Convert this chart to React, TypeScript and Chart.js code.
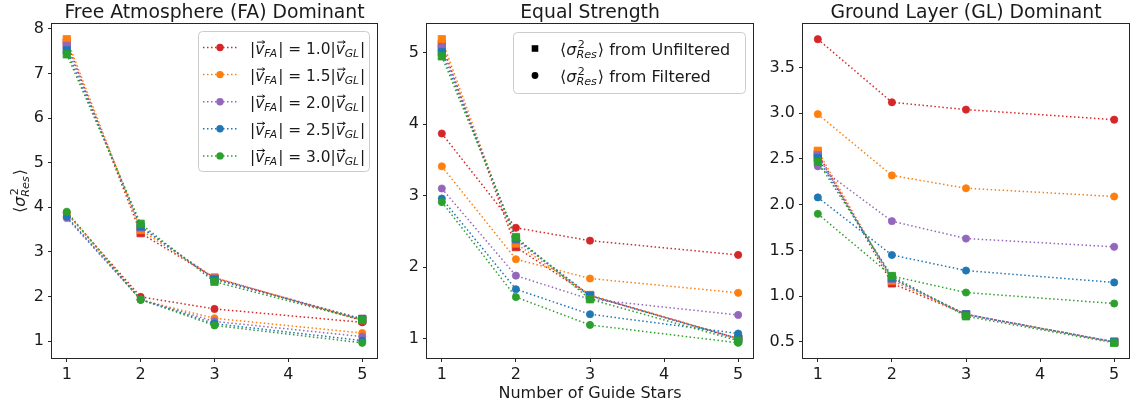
import React, { useEffect, useRef } from 'react';
import { Chart, registerables } from 'chart.js';
Chart.register(...registerables);

// ---------------- data ----------------
const guideStars = [1, 2, 3, 5];
const velocityRatios = ['1.0', '1.5', '2.0', '2.5', '3.0'];
const seriesColors = ['#d62728', '#ff7f0e', '#9467bd', '#1f77b4', '#2ca02c'];
const panelTitles = ['Free Atmosphere (FA) Dominant', 'Equal Strength', 'Ground Layer (GL) Dominant'];

// Free Atmosphere dominant
const unfilteredFA = [
  [7.70, 3.42, 2.42, 1.46],
  [7.77, 3.49, 2.42, 1.48],
  [7.62, 3.55, 2.40, 1.50],
  [7.52, 3.57, 2.38, 1.49],
  [7.43, 3.63, 2.33, 1.47],
];
const filteredFA = [
  [3.87, 1.99, 1.72, 1.42],
  [3.88, 1.92, 1.51, 1.18],
  [3.76, 1.93, 1.44, 1.10],
  [3.79, 1.93, 1.39, 1.01],
  [3.90, 1.93, 1.35, 0.96],
];
// Equal strength
const unfilteredES = [
  [5.12, 2.28, 1.60, 1.00],
  [5.19, 2.33, 1.61, 1.00],
  [5.07, 2.38, 1.60, 1.00],
  [5.01, 2.40, 1.60, 0.99],
  [4.95, 2.42, 1.55, 0.97],
];
const filteredES = [
  [3.87, 2.55, 2.37, 2.17],
  [3.41, 2.11, 1.84, 1.64],
  [3.10, 1.88, 1.55, 1.33],
  [2.96, 1.69, 1.34, 1.07],
  [2.91, 1.58, 1.19, 0.94],
];
// Ground layer dominant
const unfilteredGL = [
  [2.56, 1.14, 0.80, 0.50],
  [2.59, 1.17, 0.80, 0.50],
  [2.54, 1.19, 0.80, 0.50],
  [2.51, 1.20, 0.80, 0.50],
  [2.47, 1.22, 0.78, 0.49],
];
const filteredGL = [
  [3.81, 3.12, 3.04, 2.93],
  [2.99, 2.32, 2.18, 2.09],
  [2.42, 1.82, 1.63, 1.54],
  [2.08, 1.45, 1.28, 1.15],
  [1.90, 1.22, 1.04, 0.92],
];

const xTicks = [1, 2, 3, 4, 5];
const yTicksFA = [1, 2, 3, 4, 5, 6, 7, 8];
const yTicksES = [1, 2, 3, 4, 5];
const yTicksGL = [0.5, 1.0, 1.5, 2.0, 2.5, 3.0, 3.5];

// ---------------- drawing helpers ----------------
const FAM = '"DejaVu Sans", "Liberation Sans", sans-serif';
const TEXT = '#1a1a1a';
function setFont(ctx: CanvasRenderingContext2D, size: number, it = false) {
  ctx.font = `${it ? 'italic ' : ''}${size}px ${FAM}`;
}
type Run = { t?: string; it?: boolean; arrow?: boolean; sup?: string; sub?: string };

function drawVecArrow(ctx: CanvasRenderingContext2D, x0: number, x1: number, y: number, size: number) {
  ctx.save();
  ctx.lineWidth = Math.max(1, size * 0.06);
  ctx.strokeStyle = TEXT;
  ctx.beginPath();
  ctx.moveTo(x0, y);
  ctx.lineTo(x1, y);
  ctx.stroke();
  ctx.beginPath();
  ctx.moveTo(x1 - size * 0.15, y - size * 0.1);
  ctx.lineTo(x1, y);
  ctx.lineTo(x1 - size * 0.15, y + size * 0.1);
  ctx.stroke();
  ctx.restore();
}

function drawRuns(ctx: CanvasRenderingContext2D, runs: Run[], x: number, y: number, size: number, draw = true) {
  let cx = x;
  ctx.fillStyle = TEXT;
  ctx.textBaseline = 'alphabetic';
  ctx.textAlign = 'left';
  for (const r of runs) {
    if (r.t !== undefined) {
      setFont(ctx, size, !!r.it);
      const w = ctx.measureText(r.t).width;
      if (draw) {
        ctx.fillText(r.t, cx, y);
        if (r.arrow) drawVecArrow(ctx, cx + w * 0.2, cx + w * 1.05, y - size * 0.74, size);
      }
      cx += w;
    } else {
      const s = size * 0.7;
      let w = 0;
      if (r.sup) {
        setFont(ctx, s, false);
        const ws = ctx.measureText(r.sup).width + size * 0.08;
        if (draw) ctx.fillText(r.sup, cx + size * 0.08, y - size * 0.42);
        w = Math.max(w, ws);
      }
      if (r.sub) {
        setFont(ctx, s, true);
        const wb = ctx.measureText(r.sub).width;
        if (draw) ctx.fillText(r.sub, cx, y + size * 0.22);
        w = Math.max(w, wb);
      }
      cx += w + size * 0.06;
    }
  }
  return cx - x;
}

const sigmaRuns: Run[] = [{ t: '⟨' }, { t: 'σ', it: true }, { sup: '2', sub: 'Res' }, { t: '⟩' }];
function ratioRuns(r: string): Run[] {
  return [
    { t: '|' }, { t: 'v', it: true, arrow: true }, { sub: 'FA' },
    { t: `| = ${r}|` }, { t: 'v', it: true, arrow: true }, { sub: 'GL' }, { t: '|' },
  ];
}

function roundRect(ctx: CanvasRenderingContext2D, x: number, y: number, w: number, h: number, r: number) {
  ctx.beginPath();
  ctx.moveTo(x + r, y);
  ctx.lineTo(x + w - r, y);
  ctx.arcTo(x + w, y, x + w, y + r, r);
  ctx.lineTo(x + w, y + h - r);
  ctx.arcTo(x + w, y + h, x + w - r, y + h, r);
  ctx.lineTo(x + r, y + h);
  ctx.arcTo(x, y + h, x, y + h - r, r);
  ctx.lineTo(x, y + r);
  ctx.arcTo(x, y, x + r, y, r);
  ctx.closePath();
}

type Panel = {
  title: string;
  unf: number[][];
  fil: number[][];
  yTicks: number[];
  decimals: number;
  left: number;
  width: number;
  yAxisWidth: number;
  rightPad: number;
  legend: 'colors' | 'markers' | null;
  yLabel: boolean;
  xTitle: boolean;
};

const panels: Panel[] = [
  { title: panelTitles[0], unf: unfilteredFA, fil: filteredFA, yTicks: yTicksFA, decimals: 0, left: 0, width: 390, yAxisWidth: 52, rightPad: 13, legend: 'colors', yLabel: true, xTitle: false },
  { title: panelTitles[1], unf: unfilteredES, fil: filteredES, yTicks: yTicksES, decimals: 0, left: 390, width: 375, yAxisWidth: 37, rightPad: 12, legend: 'markers', yLabel: false, xTitle: true },
  { title: panelTitles[2], unf: unfilteredGL, fil: filteredGL, yTicks: yTicksGL, decimals: 1, left: 765, width: 370, yAxisWidth: 38, rightPad: 6, legend: null, yLabel: false, xTitle: false },
];

const H = 407;

function overlayPlugin(p: Panel) {
  return {
    id: 'overlay',
    afterDraw(chart: any) {
      const ctx: CanvasRenderingContext2D = chart.ctx;
      const a = chart.chartArea;
      ctx.save();
      // frame
      ctx.strokeStyle = '#262626';
      ctx.lineWidth = 1;
      ctx.strokeRect(Math.round(a.left) - 0.5, Math.round(a.top) - 0.5, Math.round(a.right - a.left) + 1, Math.round(a.bottom - a.top) + 1);
      // title
      setFont(ctx, 18.8);
      ctx.fillStyle = TEXT;
      ctx.textAlign = 'center';
      ctx.textBaseline = 'alphabetic';
      ctx.fillText(p.title, (a.left + a.right) / 2, 17.5);
      // x title
      if (p.xTitle) {
        setFont(ctx, 16);
        ctx.textAlign = 'center';
        ctx.fillText('Number of Guide Stars', (a.left + a.right) / 2, 398);
      }
      // y label
      if (p.yLabel) {
        const w = drawRuns(ctx, sigmaRuns, 0, 0, 16, false);
        ctx.save();
        ctx.translate(0, (a.top + a.bottom) / 2);
        ctx.rotate(-Math.PI / 2);
        drawRuns(ctx, sigmaRuns, -w / 2, 25, 16, true);
        ctx.restore();
      }
      // legends
      if (p.legend === 'colors') {
        const bx = 198 - p.left, by = 31, bw = 171, bh = 140;
        roundRect(ctx, bx + 0.5, by + 0.5, bw, bh, 4);
        ctx.fillStyle = 'rgba(255,255,255,0.8)';
        ctx.fill();
        ctx.strokeStyle = '#cccccc';
        ctx.lineWidth = 1;
        ctx.stroke();
        for (let i = 0; i < velocityRatios.length; i++) {
          const yc = 47.5 + 27.1 * i;
          ctx.save();
          ctx.strokeStyle = seriesColors[i];
          ctx.lineWidth = 1.5;
          ctx.setLineDash([1.5, 2.5]);
          ctx.beginPath();
          ctx.moveTo(bx + 5, yc);
          ctx.lineTo(bx + 39, yc);
          ctx.stroke();
          ctx.restore();
          ctx.fillStyle = seriesColors[i];
          ctx.beginPath();
          ctx.arc(bx + 22, yc, 3.7, 0, Math.PI * 2);
          ctx.fill();
          drawRuns(ctx, ratioRuns(velocityRatios[i]), bx + 52, yc + 6, 15.4, true);
        }
      } else if (p.legend === 'markers') {
        const bx = 513 - p.left, by = 32, bw = 232, bh = 61;
        roundRect(ctx, bx + 0.5, by + 0.5, bw, bh, 4);
        ctx.fillStyle = 'rgba(255,255,255,0.8)';
        ctx.fill();
        ctx.strokeStyle = '#cccccc';
        ctx.lineWidth = 1;
        ctx.stroke();
        const mx = 535 - p.left;
        ctx.fillStyle = '#000';
        ctx.fillRect(mx - 3.3, 48.5 - 3.3, 6.6, 6.6);
        ctx.beginPath();
        ctx.arc(mx, 75.5, 3.4, 0, Math.PI * 2);
        ctx.fill();
        drawRuns(ctx, [...sigmaRuns, { t: ' from Unfiltered' }], 560 - p.left, 48.5 + 6, 16, true);
        drawRuns(ctx, [...sigmaRuns, { t: ' from Filtered' }], 560 - p.left, 75.5 + 6, 16, true);
      }
      ctx.restore();
    },
  };
}

function buildChart(canvas: HTMLCanvasElement, p: Panel) {
  const all = [...p.unf.flat(), ...p.fil.flat()];
  const lo = Math.min(...all), hi = Math.max(...all);
  const m = (hi - lo) * 0.05;
  const datasets: any[] = [];
  for (let i = 0; i < seriesColors.length; i++) {
    const c = seriesColors[i];
    const common = {
      borderColor: c, backgroundColor: c, borderWidth: 1.5, borderDash: [1.5, 2.5],
      pointBackgroundColor: c, pointBorderColor: c, pointBorderWidth: 0.8,
      showLine: true, tension: 0, fill: false, borderCapStyle: 'butt',
    };
    datasets.push({ ...common, label: `unf ${velocityRatios[i]}`, data: guideStars.map((x, j) => ({ x, y: p.unf[i][j] })), pointStyle: 'rect', pointRadius: 5.2 });
    datasets.push({ ...common, label: `fil ${velocityRatios[i]}`, data: guideStars.map((x, j) => ({ x, y: p.fil[i][j] })), pointStyle: 'circle', pointRadius: 3.6 });
  }
  datasets.reverse(); // first dataset is drawn on top in Chart.js

  const tickFont = { family: FAM, size: 16 };
  return new Chart(canvas, {
    type: 'line',
    data: { datasets },
    plugins: [overlayPlugin(p)],
    options: {
      responsive: false,
      animation: false,
      devicePixelRatio: 1,
      events: [],
      layout: { padding: { left: 0, right: p.rightPad, top: 24, bottom: 0 } },
      plugins: { legend: { display: false }, tooltip: { enabled: false }, title: { display: false } },
      scales: {
        x: {
          type: 'linear', min: 0.8, max: 5.2,
          afterBuildTicks: (s: any) => { s.ticks = xTicks.map((v) => ({ value: v })); },
          afterFit: (s: any) => { s.height = H - 358; },
          grid: { display: true, drawOnChartArea: false, drawTicks: true, tickLength: 4, color: '#262626', lineWidth: 1 },
          border: { display: false },
          ticks: { font: tickFont, color: TEXT, padding: 3, maxRotation: 0, autoSkip: false, callback: (v: any) => String(v) },
        },
        y: {
          type: 'linear', min: lo - m, max: hi + m,
          afterBuildTicks: (s: any) => { s.ticks = p.yTicks.map((v) => ({ value: v })); },
          afterFit: (s: any) => { s.width = p.yAxisWidth; },
          grid: { display: true, drawOnChartArea: false, drawTicks: true, tickLength: 4, color: '#262626', lineWidth: 1 },
          border: { display: false },
          ticks: { font: tickFont, color: TEXT, padding: 4, autoSkip: false, callback: (v: any) => Number(v).toFixed(p.decimals) },
        },
      },
    } as any,
  });
}

function PanelChart({ p }: { p: Panel }) {
  const ref = useRef<HTMLCanvasElement | null>(null);
  useEffect(() => {
    if (!ref.current) return;
    const chart = buildChart(ref.current, p);
    return () => chart.destroy();
  }, [p]);
  return (
    <canvas
      ref={ref}
      width={p.width}
      height={H}
      style={{ position: 'absolute', left: p.left, top: 0, width: p.width, height: H }}
    />
  );
}

export default function App() {
  return (
    <div style={{ position: 'fixed', left: 0, top: 0, width: 1135, height: H, background: '#fff', overflow: 'hidden' }}>
      {panels.map((p, i) => (
        <PanelChart key={i} p={p} />
      ))}
    </div>
  );
}
